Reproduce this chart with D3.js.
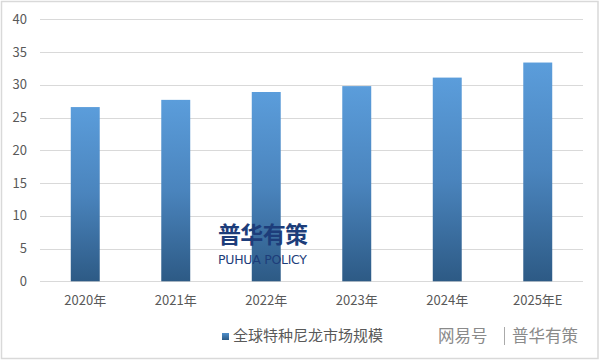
<!DOCTYPE html>
<html><head><meta charset="utf-8">
<script src="https://cdn.jsdelivr.net/npm/d3@7"></script>
<style>body{margin:0;background:#fff}svg{display:block}</style>
</head><body>
<script>
const categories = ["2020年","2021年","2022年","2023年","2024年","2025年E"];
const values = [26.6, 27.7, 28.9, 29.8, 31.1, 33.4];
const yTicks = [0,5,10,15,20,25,30,35,40];
const seriesName = "全球特种尼龙市场规模";

const W = 601, H = 361;
const svg = d3.select("body").append("svg").attr("width", W).attr("height", H);
const font = "'Microsoft YaHei','Noto Sans CJK SC','DejaVu Sans',sans-serif";

svg.append("rect").attr("x",1.5).attr("y",1.5).attr("width",596.5).attr("height",357)
  .attr("fill","#fff").attr("stroke","#d9d9d9").attr("stroke-width",1.5);

const defs = svg.append("defs");
const g = defs.append("linearGradient").attr("id","bg").attr("x1",0).attr("y1",0).attr("x2",0).attr("y2",1);
g.append("stop").attr("offset","0%").attr("stop-color","#5b9ddb");
g.append("stop").attr("offset","50%").attr("stop-color","#4a84bd");
g.append("stop").attr("offset","100%").attr("stop-color","#2d5a85");
const lg = defs.append("linearGradient").attr("id","lg").attr("x1",0).attr("y1",0).attr("x2",0).attr("y2",1);
lg.append("stop").attr("offset","0%").attr("stop-color","#4f8fcb");
lg.append("stop").attr("offset","100%").attr("stop-color","#2d5a85");

const x = d3.scaleBand().domain(categories).range([40, 583]).paddingInner(0.68).paddingOuter(0.34);
const y = d3.scaleLinear().domain([0, 40]).range([281.3, 19.3]);

// grid
svg.append("g").selectAll("line").data(yTicks).join("line")
  .attr("x1",40).attr("x2",583)
  .attr("y1",d=>Math.round(y(d))+0.5).attr("y2",d=>Math.round(y(d))+0.5)
  .attr("stroke","#d9d9d9").attr("stroke-width",1);

// y labels
svg.append("g").selectAll("text").data(yTicks).join("text")
  .attr("x",27).attr("y",d=>y(d)).attr("dy","0.35em").attr("text-anchor","end")
  .attr("font-family",font).attr("font-size",13).attr("fill","#595959").text(d=>d);

// bars
svg.append("g").selectAll("rect").data(values).join("rect")
  .attr("x",(d,i)=>x(categories[i])).attr("width",x.bandwidth())
  .attr("y",d=>y(d)).attr("height",d=>y(0)-y(d)).attr("fill","url(#bg)");

// x labels
svg.append("g").selectAll("text").data(categories).join("text")
  .attr("x",d=>x(d)+x.bandwidth()/2).attr("y",305).attr("text-anchor","middle")
  .attr("font-family",font).attr("font-size",13).attr("fill","#595959").text(d=>d);

// logo watermark
svg.append("text").attr("x",218).attr("y",243).attr("font-family",font).attr("font-weight","bold")
  .attr("font-size",23).attr("fill","#1d3d7a").attr("textLength",90).text("普华有策");
svg.append("text").attr("x",218).attr("y",264).attr("font-family","'DejaVu Sans',sans-serif")
  .attr("font-size",12.5).attr("fill","#1d3d7a").attr("textLength",89).text("PUHUA POLICY");

// legend
svg.append("rect").attr("x",222).attr("y",333).attr("width",7).attr("height",7).attr("fill","url(#lg)");
svg.append("text").attr("x",233).attr("y",341).attr("font-family",font).attr("font-size",15)
  .attr("fill","#595959").text(seriesName);

// source watermark
svg.append("text").attr("x",438).attr("y",342).attr("font-family",font).attr("font-size",16.5)
  .attr("fill","#8a8a8a").text("网易号");
svg.append("line").attr("x1",504.5).attr("x2",504.5).attr("y1",327).attr("y2",345).attr("stroke","#aaa");
svg.append("text").attr("x",512).attr("y",342).attr("font-family",font).attr("font-size",16.5)
  .attr("fill","#8a8a8a").text("普华有策");
</script>
</body></html>
